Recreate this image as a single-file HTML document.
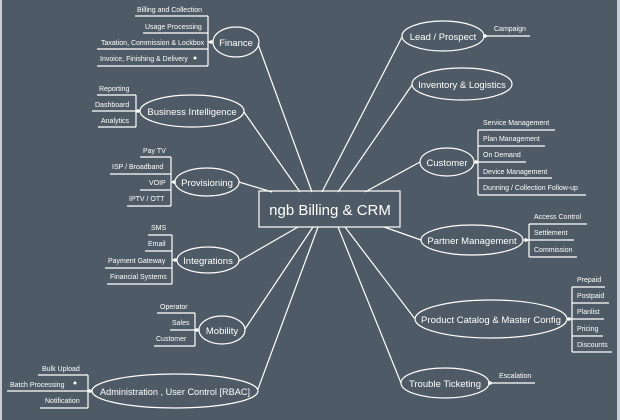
<!DOCTYPE html>
<html><head><meta charset="utf-8"><style>
html,body{margin:0;padding:0;background:#4e5b66;}
svg{display:block}
text{font-family:"Liberation Sans",sans-serif;fill:#fff}
.l{font-size:7px}
.n{font-size:9.5px;text-anchor:middle}
</style></head><body>
<svg width="620" height="420" viewBox="0 0 620 420">
<rect width="620" height="420" fill="#4e5b66"/>
<rect x="0" y="0" width="2" height="420" fill="#c9ced3"/>
<rect x="617" y="0" width="3" height="420" fill="#c9ced3"/>
<g stroke="#fff" stroke-width="1.2" fill="none">
<line x1="258" y1="44" x2="312" y2="192"/>
<line x1="244" y1="112" x2="300" y2="192"/>
<line x1="239" y1="182" x2="272" y2="192"/>
<line x1="239" y1="261" x2="298" y2="227"/>
<line x1="245" y1="329" x2="313" y2="227"/>
<line x1="258" y1="389" x2="318" y2="227"/>
<line x1="402" y1="37" x2="322" y2="192"/>
<line x1="412" y1="85" x2="338" y2="192"/>
<line x1="420" y1="162" x2="365" y2="192"/>
<line x1="421" y1="240" x2="384" y2="227"/>
<line x1="415" y1="319" x2="345" y2="227"/>
<line x1="401" y1="383" x2="338" y2="227"/>
<rect x="259" y="191" width="141" height="36"/>
<ellipse cx="236" cy="42" rx="23" ry="15"/>
<ellipse cx="192" cy="111" rx="52" ry="16"/>
<ellipse cx="207" cy="182" rx="32" ry="14"/>
<ellipse cx="208" cy="260" rx="31" ry="13"/>
<ellipse cx="222" cy="330" rx="23" ry="14"/>
<ellipse cx="175" cy="391" rx="83" ry="17"/>
<ellipse cx="443" cy="36" rx="41" ry="15"/>
<ellipse cx="462" cy="84" rx="50" ry="16"/>
<ellipse cx="447" cy="162" rx="27" ry="14"/>
<ellipse cx="472" cy="240" rx="51" ry="15"/>
<ellipse cx="491" cy="319" rx="76" ry="19"/>
<ellipse cx="445" cy="383" rx="44" ry="15"/>
<path d="M208 16V66 M135 16H208 M143 33H208 M97 49H208 M97 66H208 M208 42H213"/>
<path d="M136 95V127 M97 95H136 M92 111H136 M98 127H136 M136 111H140"/>
<path d="M171 157V206 M140 157H171 M110 174H171 M140 190H171 M127 206H171 M171 182H175"/>
<path d="M172 235V284 M148 235H172 M145 251H172 M105 268H172 M107 284H172 M172 260H177"/>
<path d="M195 313V346 M157 313H195 M170 330H195 M154 346H195 M195 330H199"/>
<path d="M88 375V408 M38 375H88 M7 391H92 M40 408H88"/>
<path d="M483 36H530"/>
<path d="M478 130V195 M478 130H555 M478 146H545 M478 162H526 M478 178H552 M478 195H586 M474 162H478"/>
<path d="M529 224V257 M529 224H587 M529 240H574 M529 257H577 M523 240H529"/>
<path d="M572 287V352 M572 287H605 M572 303H609 M572 319H604 M572 336H603 M572 352H612 M567 319H572"/>
<path d="M488 383H535"/>
</g>
<g fill="#fff">
<circle cx="211" cy="42" r="1.8"/><circle cx="195" cy="58" r="1.5"/>
<circle cx="138" cy="111" r="1.8"/><circle cx="174" cy="182" r="1.8"/>
<circle cx="175" cy="260" r="1.8"/><circle cx="197" cy="330" r="1.8"/>
<circle cx="90" cy="391" r="1.8"/><circle cx="75" cy="383" r="1.5"/>
<circle cx="485" cy="36" r="1.8"/><circle cx="476" cy="162" r="1.8"/>
<circle cx="526" cy="240" r="1.8"/><circle cx="569" cy="319" r="1.8"/>
<circle cx="490" cy="383" r="1.8"/>
</g>
<text x="330" y="215" font-size="15" text-anchor="middle">ngb Billing &amp; CRM</text>
<text class="n" x="236" y="46">Finance</text>
<text class="n" x="192" y="115">Business Intelligence</text>
<text class="n" x="207" y="186">Provisioning</text>
<text class="n" x="208" y="264">Integrations</text>
<text class="n" x="222" y="334">Mobility</text>
<text class="n" x="175" y="395" textLength="150" lengthAdjust="spacingAndGlyphs">Administration , User Control [RBAC]</text>
<text class="n" x="443" y="40">Lead / Prospect</text>
<text class="n" x="462" y="88">Inventory &amp; Logistics</text>
<text class="n" x="447" y="166">Customer</text>
<text class="n" x="472" y="244">Partner Management</text>
<text class="n" x="491" y="323" textLength="140" lengthAdjust="spacingAndGlyphs">Product Catalog &amp; Master Config</text>
<text class="n" x="445" y="387">Trouble Ticketing</text>
<g class="l">
<text class="l" x="137" y="12">Billing and Collection</text>
<text class="l" x="145" y="29">Usage Processing</text>
<text class="l" x="101" y="45">Taxation, Commission &amp; Lockbox</text>
<text class="l" x="100" y="61">Invoice, Finishing &amp; Delivery</text>
<text class="l" x="99" y="91">Reporting</text>
<text class="l" x="95" y="107">Dashboard</text>
<text class="l" x="101" y="123">Analytics</text>
<text class="l" x="143" y="153">Pay TV</text>
<text class="l" x="112" y="169">ISP / Broadband</text>
<text class="l" x="149" y="185">VOIP</text>
<text class="l" x="129" y="201">IPTV / OTT</text>
<text class="l" x="151" y="230">SMS</text>
<text class="l" x="148" y="246">Email</text>
<text class="l" x="108" y="263">Payment Gateway</text>
<text class="l" x="110" y="279">Financial Systems</text>
<text class="l" x="160" y="309">Operator</text>
<text class="l" x="172" y="325">Sales</text>
<text class="l" x="156" y="341">Customer</text>
<text class="l" x="42" y="371">Bulk Upload</text>
<text class="l" x="10" y="387">Batch Processing</text>
<text class="l" x="45" y="403">Notification</text>
<text class="l" x="494" y="31">Campaign</text>
<text class="l" x="483" y="125">Service Management</text>
<text class="l" x="483" y="141">Plan Management</text>
<text class="l" x="483" y="157">On Demand</text>
<text class="l" x="483" y="174">Device Management</text>
<text class="l" x="483" y="190">Dunning / Collection Follow-up</text>
<text class="l" x="534" y="219">Access Control</text>
<text class="l" x="534" y="235">Settlement</text>
<text class="l" x="534" y="252">Commission</text>
<text class="l" x="577" y="282">Prepaid</text>
<text class="l" x="577" y="298">Postpaid</text>
<text class="l" x="577" y="314">Planlist</text>
<text class="l" x="577" y="331">Pricing</text>
<text class="l" x="577" y="347">Discounts</text>
<text class="l" x="499" y="378">Escalation</text>
</g>
</svg>
</body></html>
